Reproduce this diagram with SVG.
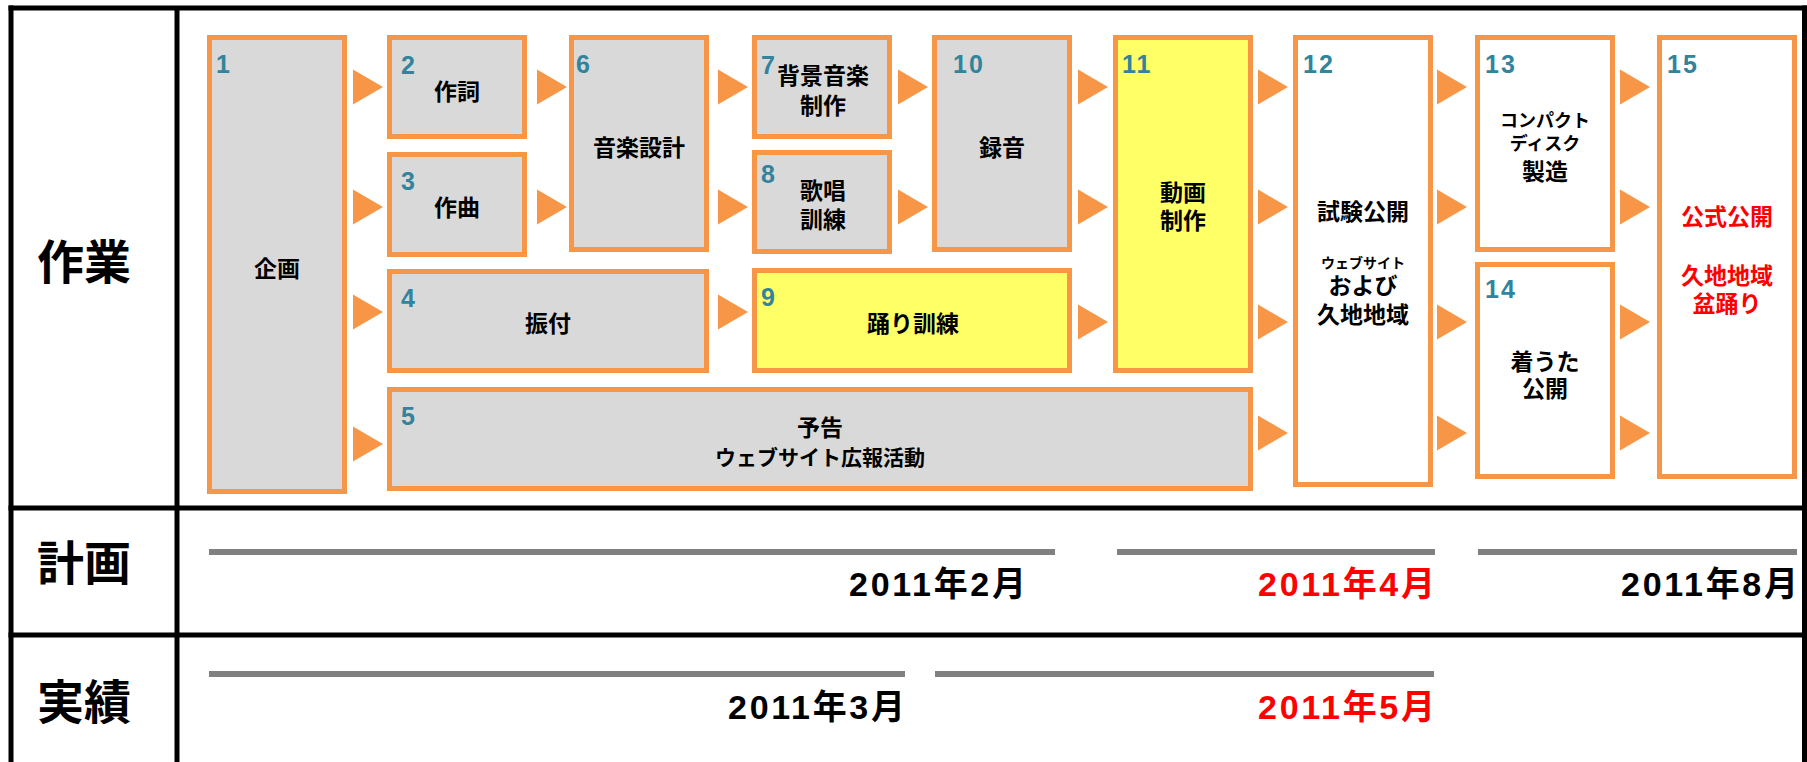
<svg xmlns="http://www.w3.org/2000/svg" width="1807" height="762" viewBox="0 0 1807 762">
<style>
.box{stroke:#F79646;stroke-width:5;}
.g{fill:#D9D9D9;}
.y{fill:#FFFF66;}
.w{fill:#FFFFFF;}
.num{font-family:"Liberation Sans",Arial,sans-serif;font-weight:bold;font-size:25px;fill:#31849B;letter-spacing:2px;}
.lb{font-family:"Noto Sans CJK JP",sans-serif;font-weight:bold;font-size:23px;fill:#000;text-anchor:middle;}
.hd{font-family:"Noto Sans CJK JP",sans-serif;font-weight:bold;font-size:47px;fill:#000;text-anchor:middle;}
.dt{font-family:"Liberation Sans","Noto Sans CJK JP",sans-serif;font-weight:bold;font-size:34px;fill:#000;text-anchor:end;}
.bar{stroke:#808080;stroke-width:6;}
.grid{stroke:#000;stroke-width:5;}
.arr{fill:#F79646;}
.red{fill:#FF0000;}
</style>
<rect x="0" y="0" width="1807" height="762" fill="#FFFFFF"/>
<g id="table">
<line class="grid" x1="8.5" y1="8" x2="1807" y2="8"/>
<line class="grid" x1="11" y1="5.5" x2="11" y2="762"/>
<line class="grid" x1="177" y1="8" x2="177" y2="762"/>
<line class="grid" x1="1804.5" y1="5.5" x2="1804.5" y2="762"/>
<line class="grid" x1="8.5" y1="508" x2="1807" y2="508"/>
<line class="grid" x1="8.5" y1="635" x2="1807" y2="635"/>
</g>
<g id="headers">
<text class="hd" x="84" y="279">作業</text>
<text class="hd" x="84" y="580">計画</text>
<text class="hd" x="84" y="719">実績</text>
</g>
<g id="connectors">
<polygon class="arr" points="353,69.5 383,87 353,104.5"/>
<polygon class="arr" points="353,189.5 383,207 353,224.5"/>
<polygon class="arr" points="353,294.5 383,312 353,329.5"/>
<polygon class="arr" points="353,426.5 383,444 353,461.5"/>
<polygon class="arr" points="537,69.5 567,87 537,104.5"/>
<polygon class="arr" points="537,189.5 567,207 537,224.5"/>
<polygon class="arr" points="718,69.5 748,87 718,104.5"/>
<polygon class="arr" points="718,189.5 748,207 718,224.5"/>
<polygon class="arr" points="718,294.5 748,312 718,329.5"/>
<polygon class="arr" points="898,69.5 928,87 898,104.5"/>
<polygon class="arr" points="898,189.5 928,207 898,224.5"/>
<polygon class="arr" points="1078,69.5 1108,87 1078,104.5"/>
<polygon class="arr" points="1078,189.5 1108,207 1078,224.5"/>
<polygon class="arr" points="1078,304.5 1108,322 1078,339.5"/>
<polygon class="arr" points="1258,69.5 1288,87 1258,104.5"/>
<polygon class="arr" points="1258,189.5 1288,207 1258,224.5"/>
<polygon class="arr" points="1258,304.5 1288,322 1258,339.5"/>
<polygon class="arr" points="1258,415.5 1288,433 1258,450.5"/>
<polygon class="arr" points="1437,69.5 1467,87 1437,104.5"/>
<polygon class="arr" points="1437,189.5 1467,207 1437,224.5"/>
<polygon class="arr" points="1437,304.5 1467,322 1437,339.5"/>
<polygon class="arr" points="1437,415.5 1467,433 1437,450.5"/>
<polygon class="arr" points="1620,69.5 1650,87 1620,104.5"/>
<polygon class="arr" points="1620,189.5 1650,207 1620,224.5"/>
<polygon class="arr" points="1620,304.5 1650,322 1620,339.5"/>
<polygon class="arr" points="1620,415.5 1650,433 1620,450.5"/>
</g>
<g id="n1"><rect class="box g" x="209.5" y="37.5" width="135" height="454"/><text class="num" x="216" y="73">1</text><text class="lb" x="277" y="277">企画</text></g>
<g id="n2"><rect class="box g" x="389.5" y="37.5" width="135" height="99"/><text class="num" x="401" y="74">2</text><text class="lb" x="457" y="100">作詞</text></g>
<g id="n3"><rect class="box g" x="389.5" y="154.5" width="135" height="100"/><text class="num" x="401" y="190">3</text><text class="lb" x="457" y="216">作曲</text></g>
<g id="n4"><rect class="box g" x="389.5" y="271.5" width="317" height="99"/><text class="num" x="401" y="307">4</text><text class="lb" x="548" y="332">振付</text></g>
<g id="n5"><rect class="box g" x="389.5" y="389.5" width="861" height="99"/><text class="num" x="401" y="425">5</text><text class="lb" x="820" y="436">予告</text><text class="lb" x="820" y="465" style="font-size:21px">ウェブサイト広報活動</text></g>
<g id="n6"><rect class="box g" x="571.5" y="37.5" width="135" height="212"/><text class="num" x="576" y="73">6</text><text class="lb" x="639" y="156">音楽設計</text></g>
<g id="n7"><rect class="box g" x="754.5" y="37.5" width="135" height="99"/><text class="num" x="761" y="74">7</text><text class="lb" x="823" y="84">背景音楽</text><text class="lb" x="823" y="114">制作</text></g>
<g id="n8"><rect class="box g" x="754.5" y="152.5" width="135" height="99"/><text class="num" x="761" y="183">8</text><text class="lb" x="823" y="199">歌唱</text><text class="lb" x="823" y="228">訓練</text></g>
<g id="n9"><rect class="box y" x="754.5" y="270.5" width="315" height="100"/><text class="num" x="761" y="306">9</text><text class="lb" x="913" y="332">踊り訓練</text></g>
<g id="n10"><rect class="box g" x="934.5" y="37.5" width="135" height="212"/><text class="num" x="953" y="73">10</text><text class="lb" x="1002" y="156">録音</text></g>
<g id="n11"><rect class="box y" x="1115.5" y="37.5" width="135" height="333"/><text class="num" x="1122" y="73">11</text><text class="lb" x="1183" y="201">動画</text><text class="lb" x="1183" y="229">制作</text></g>
<g id="n12"><rect class="box w" x="1295.5" y="37.5" width="135" height="447"/><text class="num" x="1303" y="73">12</text><text class="lb" x="1363" y="220">試験公開</text><text class="lb" x="1363" y="268" style="font-size:14px">ウェブサイト</text><text class="lb" x="1363" y="294">および</text><text class="lb" x="1363" y="323">久地地域</text></g>
<g id="n13"><rect class="box w" x="1477.5" y="37.5" width="135" height="212"/><text class="num" x="1485" y="73">13</text><text class="lb" x="1545" y="127" style="font-size:18px">コンパクト</text><text class="lb" x="1545" y="150" style="font-size:18px">ディスク</text><text class="lb" x="1545" y="180">製造</text></g>
<g id="n14"><rect class="box w" x="1477.5" y="264.5" width="135" height="212"/><text class="num" x="1485" y="298">14</text><text class="lb" x="1545" y="370">着うた</text><text class="lb" x="1545" y="397">公開</text></g>
<g id="n15"><rect class="box w" x="1659.5" y="37.5" width="135" height="439"/><text class="num" x="1667" y="73">15</text><text class="lb red" x="1727" y="225">公式公開</text><text class="lb red" x="1727" y="284">久地地域</text><text class="lb red" x="1727" y="312">盆踊り</text></g>
<g id="plan">
<line class="bar" x1="209" y1="552" x2="1055" y2="552"/>
<line class="bar" x1="1117" y1="552" x2="1435" y2="552"/>
<line class="bar" x1="1478" y1="552" x2="1797" y2="552"/>
<text class="dt" x="1026" y="596" textLength="177" lengthAdjust="spacing">2011年2月</text>
<text class="dt red" x="1435" y="596" textLength="177" lengthAdjust="spacing">2011年4月</text>
<text class="dt" x="1798" y="596" textLength="177" lengthAdjust="spacing">2011年8月</text>
</g>
<g id="actual">
<line class="bar" x1="209" y1="674" x2="905" y2="674"/>
<line class="bar" x1="935" y1="674" x2="1434" y2="674"/>
<text class="dt" x="905" y="719" textLength="177" lengthAdjust="spacing">2011年3月</text>
<text class="dt red" x="1435" y="719" textLength="177" lengthAdjust="spacing">2011年5月</text>
</g>
</svg>
